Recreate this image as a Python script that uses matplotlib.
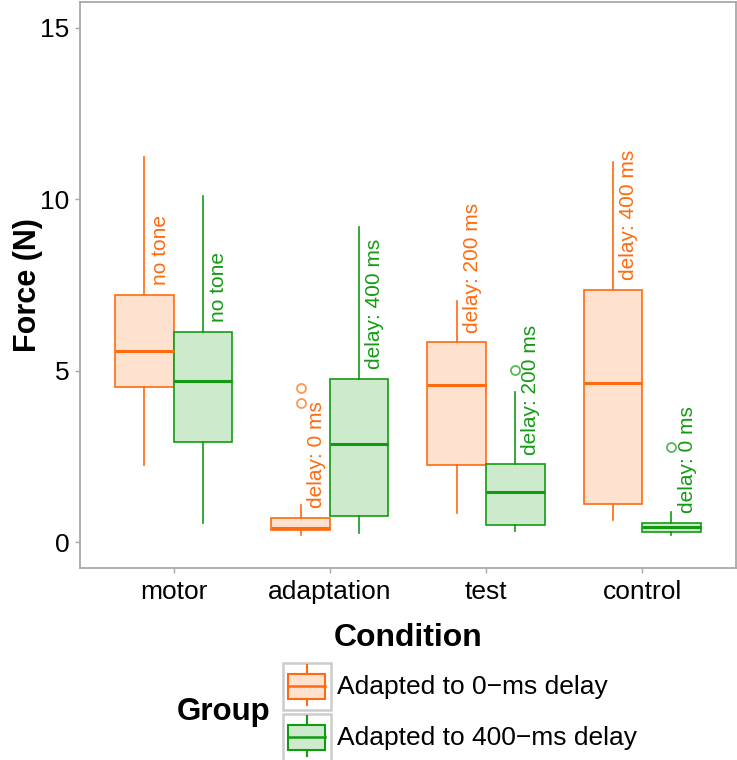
"""Force by condition, grouped boxplots for the two adaptation groups."""

import matplotlib
matplotlib.use("Agg")
import matplotlib.pyplot as plt
from matplotlib.legend_handler import HandlerBase
from matplotlib.lines import Line2D
from matplotlib.patches import Patch, Rectangle

plt.rcParams["font.family"] = ["Liberation Sans", "DejaVu Sans"]

conditions = ["motor", "adaptation", "test", "control"]
groups = ["Adapted to 0\u2212ms delay", "Adapted to 400\u2212ms delay"]

# five-number summaries, one list per group (order follows `conditions`)
whislo_0 = [2.25, 0.22, 0.86, 0.64]
q1_0 = [4.53, 0.37, 2.25, 1.13]
med_0 = [5.58, 0.42, 4.58, 4.64]
q3_0 = [7.22, 0.71, 5.83, 7.36]
whishi_0 = [11.22, 1.08, 7.03, 11.09]
fliers_0 = [[], [4.06, 4.49], [], []]

whislo_400 = [0.55, 0.27, 0.34, 0.22]
q1_400 = [2.93, 0.76, 0.50, 0.30]
med_400 = [4.69, 2.86, 1.46, 0.44]
q3_400 = [6.13, 4.76, 2.27, 0.56]
whishi_400 = [10.09, 9.19, 4.37, 0.88]
fliers_400 = [[], [], [5.03], [2.78]]

labels_0 = ["no tone", "delay: 0 ms", "delay: 200 ms", "delay: 400 ms"]
labels_400 = ["no tone", "delay: 400 ms", "delay: 200 ms", "delay: 0 ms"]

ORANGE = "#FF6A0E"
ORANGE_FILL = "#FFE1CF"
GREEN = "#139A13"
GREEN_FILL = "#CDEBCC"
SPINE = "#A8A8A8"


class BoxKeyHandler(HandlerBase):
    """Legend key drawn as a small boxplot inside a grey frame."""

    def create_artists(self, legend, orig_handle, xdescent, ydescent,
                       width, height, fontsize, trans):
        x0, y0 = -xdescent, -ydescent
        edge = orig_handle.get_edgecolor()
        face = orig_handle.get_facecolor()
        frame = Rectangle((x0, y0), width, height, facecolor="white",
                          edgecolor="#CCCCCC", linewidth=1.8, transform=trans)
        xm = x0 + 0.5 * width
        whisk = Line2D([xm, xm], [y0 + 0.10 * height, y0 + 0.95 * height],
                       color=edge, linewidth=1.5, transform=trans)
        box = Rectangle((x0 + 0.11 * width, y0 + 0.23 * height),
                        0.77 * width, 0.535 * height, facecolor=face,
                        edgecolor=edge, linewidth=1.5, transform=trans)
        med = Line2D([x0 + 0.11 * width, x0 + 0.88 * width],
                     [y0 + 0.50 * height] * 2, color=edge, linewidth=1.8,
                     transform=trans)
        return [frame, whisk, box, med]


def make_stats(lo, q1, med, q3, hi, fl):
    return [dict(whislo=a, q1=b, med=c, q3=d, whishi=e, fliers=f)
            for a, b, c, d, e, f in zip(lo, q1, med, q3, hi, fl)]


fig = plt.figure(figsize=(7.37, 7.60), dpi=100, facecolor="white")
ax = fig.add_axes([0.1085, 0.2526, 0.8900, 0.7448])

width = 0.375
series = [
    (make_stats(whislo_0, q1_0, med_0, q3_0, whishi_0, fliers_0),
     labels_0, q3_0, -width / 2, ORANGE, ORANGE_FILL),
    (make_stats(whislo_400, q1_400, med_400, q3_400, whishi_400, fliers_400),
     labels_400, q3_400, width / 2, GREEN, GREEN_FILL),
]

for stats, labels, q3, shift, edge, fill in series:
    pos = [i + 1 + shift for i in range(len(conditions))]
    ax.bxp(
        stats, positions=pos, widths=width, patch_artist=True,
        showcaps=False, manage_ticks=False,
        boxprops=dict(facecolor=fill, edgecolor=edge, linewidth=1.2),
        medianprops=dict(color=edge, linewidth=2.2),
        whiskerprops=dict(color=edge, linewidth=1.2),
        flierprops=dict(marker="o", markersize=6.5, markerfacecolor="none",
                        markeredgecolor=edge, markeredgewidth=1.3, alpha=0.7),
    )
    for x, y, text in zip(pos, q3, labels):
        ax.text(x + 0.1, y + 0.28, text, rotation=90, ha="center",
                va="bottom", fontsize=15, color=edge)

ax.set_xlim(0.4, 4.6)
ax.set_ylim(-0.75, 15.75)
ax.set_xticks(range(1, len(conditions) + 1))
ax.set_xticklabels(conditions)
ax.set_yticks([0, 5, 10, 15])
ax.tick_params(axis="both", labelsize=19, color=SPINE, length=3.5,
               width=1.0, labelcolor="black")
ax.tick_params(axis="x", pad=5)
ax.tick_params(axis="y", pad=4)
for spine in ax.spines.values():
    spine.set_color(SPINE)
    spine.set_linewidth(1.3)

ax.set_xlabel("Condition", fontsize=23, fontweight="bold", labelpad=14)
ax.set_ylabel("Force (N)", fontsize=22, fontweight="bold", labelpad=-2)

handles = [Patch(facecolor=ORANGE_FILL, edgecolor=ORANGE),
           Patch(facecolor=GREEN_FILL, edgecolor=GREEN)]
fig.legend(
    handles, groups, loc="upper left", bbox_to_anchor=(0.3836, 0.128),
    frameon=False, fontsize=19, handler_map={Patch: BoxKeyHandler()},
    handlelength=1.82, handleheight=2.36, handletextpad=0.25,
    labelspacing=0.15, borderpad=0, borderaxespad=0,
)
fig.text(0.2405, 0.063, "Group", fontsize=22.5, fontweight="bold",
         ha="left", va="center")

fig.savefig("out.png", dpi=100)
